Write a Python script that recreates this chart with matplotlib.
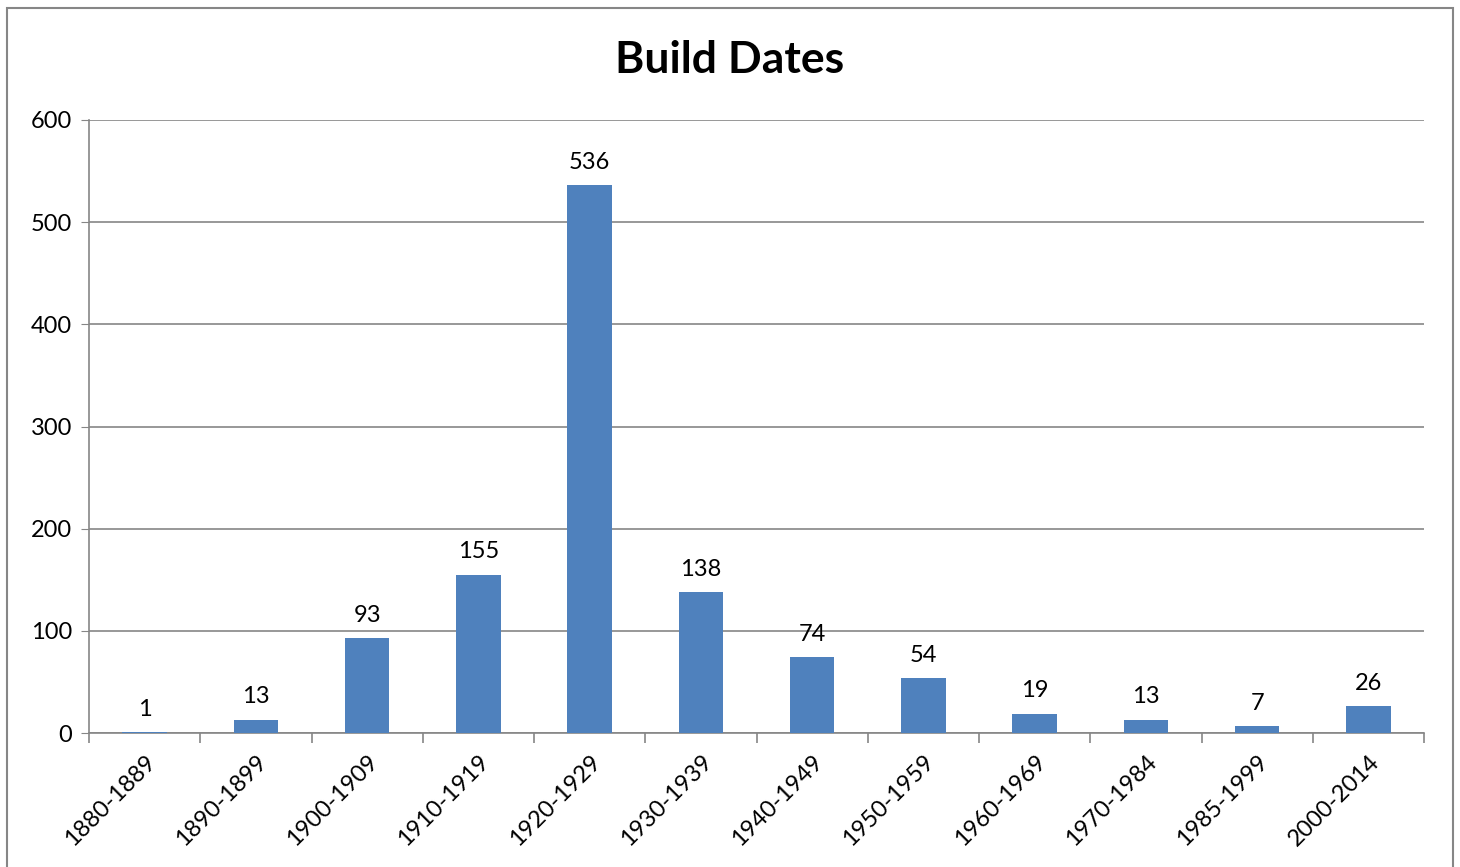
import matplotlib.pyplot as plt
import numpy as np
from matplotlib.patches import Rectangle

categories = ["1880-1889", "1890-1899", "1900-1909", "1910-1919", "1920-1929", "1930-1939",
              "1940-1949", "1950-1959", "1960-1969", "1970-1984", "1985-1999", "2000-2014"]
counts = [1, 13, 93, 155, 536, 138, 74, 54, 19, 13, 7, 26]
y_ticks = [0, 100, 200, 300, 400, 500, 600]

plt.rcParams["font.family"] = ["Lato", "DejaVu Sans"]

fig = plt.figure(figsize=(14.6, 8.67), dpi=100)
fig.patches.append(Rectangle((7 / 1460, -0.01), 1446 / 1460, 1 - 8 / 867 + 0.01,
                             transform=fig.transFigure, fill=False,
                             edgecolor="#868686", linewidth=1.5))

ax = fig.add_axes([89 / 1460, (867 - 733) / 867, (1424 - 89) / 1460, (733 - 120) / 867])
x = np.arange(len(categories))
ax.bar(x, counts, width=0.4, color="#4F81BD", zorder=3)
for xi, v in zip(x, counts):
    ax.text(xi, v + 12, str(v), ha="center", va="bottom", fontsize=17)

ax.set_xlim(-0.5, len(categories) - 0.5)
ax.set_ylim(0, 600)
ax.set_yticks(y_ticks)
ax.tick_params(axis="y", labelsize=17, length=6, color="#868686", pad=6)
ax.grid(axis="y", color="#868686", linewidth=1.2, zorder=0)

ax.set_xticks(np.arange(len(categories) + 1) - 0.5)
ax.set_xticklabels([])
ax.tick_params(axis="x", length=7, color="#868686", width=1.2)
ax.set_xticks(x, minor=True)
ax.set_xticklabels(categories, minor=True, rotation=45, ha="right",
                   rotation_mode="anchor", fontsize=17)
ax.tick_params(axis="x", which="minor", length=0, pad=13)

for side in ["top", "right"]:
    ax.spines[side].set_visible(False)
for side in ["left", "bottom"]:
    ax.spines[side].set_color("#868686")
    ax.spines[side].set_linewidth(1.2)

fig.text(730 / 1460, 1 - 60 / 867, "Build Dates", ha="center", va="center",
         fontsize=32, fontweight="bold")

fig.savefig("out.png", dpi=100)
